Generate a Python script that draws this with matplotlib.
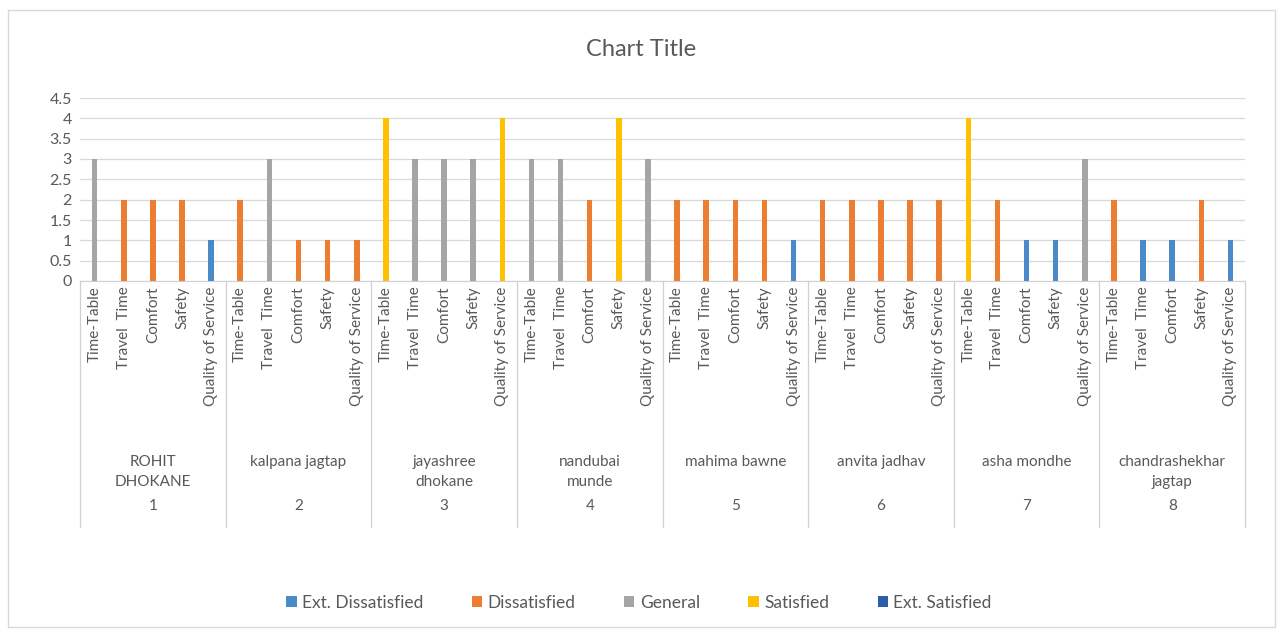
import matplotlib.pyplot as plt
import matplotlib.transforms as mtransforms
from matplotlib.patches import FancyBboxPatch
import numpy as np

plt.rcParams['font.family'] = ['Lato', 'DejaVu Sans']

# categories
groups = ['ROHIT\nDHOKANE', 'kalpana jagtap', 'jayashree\ndhokane', 'nandubai\nmunde',
          'mahima bawne', 'anvita jadhav', 'asha mondhe', 'chandrashekhar\njagtap']
group_nums = ['1', '2', '3', '4', '5', '6', '7', '8']
criteria = ['Time-Table', 'Travel  Time', 'Comfort', 'Safety', 'Quality of Service']

# rating per person and criterion
ratings = [
    [3, 2, 2, 2, 1],
    [2, 3, 1, 1, 1],
    [4, 3, 3, 3, 4],
    [3, 3, 2, 4, 3],
    [2, 2, 2, 2, 1],
    [2, 2, 2, 2, 2],
    [4, 2, 1, 1, 3],
    [2, 1, 1, 2, 1],
]
# which series each bar belongs to
# ED = Ext. Dissatisfied, D = Dissatisfied, G = General, S = Satisfied, ES = Ext. Satisfied
rating_class = [
    ['G', 'D', 'D', 'D', 'ED'],
    ['D', 'G', 'D', 'D', 'D'],
    ['S', 'G', 'G', 'G', 'S'],
    ['G', 'G', 'D', 'S', 'G'],
    ['D', 'D', 'D', 'D', 'ED'],
    ['D', 'D', 'D', 'D', 'D'],
    ['S', 'D', 'ED', 'ED', 'G'],
    ['D', 'ED', 'ED', 'D', 'ED'],
]
series = ['ED', 'D', 'G', 'S', 'ES']
series_names = ['Ext. Dissatisfied', 'Dissatisfied', 'General', 'Satisfied', 'Ext. Satisfied']
colors = ['#4A8AC9', '#ED7D31', '#A5A5A5', '#FFC000', '#2F5CA8']

txt = '#595959'
vals = np.array(ratings).ravel()
cls = np.array(rating_class).ravel()
x = np.arange(len(vals))

fig = plt.figure(figsize=(12.83, 6.37), dpi=100)
ax = fig.add_axes([0.0624, 1 - 281 / 637, 0.908, 183 / 637])

for s, name, c in zip(series, series_names, colors):
    h = np.where(cls == s, vals, 0)
    ax.bar(x, h, width=0.19, color=c, label=name)

ax.set_xlim(-0.5, len(vals) - 0.5)
ax.set_ylim(0, 4.5)
ax.set_yticks(np.arange(0, 4.51, 0.5))
ax.set_yticklabels(['0', '0.5', '1', '1.5', '2', '2.5', '3', '3.5', '4', '4.5'],
                   fontsize=11.5, color=txt)
ax.yaxis.grid(True, color='#D9D9D9', linewidth=0.9)
ax.set_axisbelow(True)
for sp in ['top', 'right', 'left']:
    ax.spines[sp].set_visible(False)
ax.spines['bottom'].set_color('#D0D0D0')
ax.tick_params(axis='y', length=0, pad=6)
ax.set_xticks(x)
ax.set_xticklabels(criteria * len(groups), rotation=90, fontsize=11, color=txt)
ax.tick_params(axis='x', length=0, pad=4)

# multi-level category axis
trans = mtransforms.blended_transform_factory(ax.transData, fig.transFigure)
y_top = 1 - 281 / 637
y_bot = 1 - 527 / 637
n = len(criteria)
for i in range(len(groups) + 1):
    xb = i * n - 0.5
    ax.plot([xb, xb], [y_top, y_bot], transform=trans, color='#D0D0D0',
            linewidth=0.9, clip_on=False)
for i, (g, num) in enumerate(zip(groups, group_nums)):
    xc = i * n + (n - 1) / 2
    va_y = 1 - 472 / 637 if '\n' in g else 1 - 462 / 637
    fig.text(xc, va_y, g, transform=trans, ha='center', va='center',
             fontsize=11, color=txt, linespacing=1.5)
    fig.text(xc, 1 - 506 / 637, num, transform=trans, ha='center', va='center',
             fontsize=11, color=txt)

fig.suptitle('Chart Title', y=1 - 50 / 637, va='center', fontsize=17, color=txt)
fig.legend(loc='center', bbox_to_anchor=(0.498, 1 - 603 / 637), ncol=5, frameon=False,
           fontsize=12.5, handlelength=0.6, handleheight=0.6, handletextpad=0.3,
           columnspacing=2.8, labelcolor=txt)

fig.patches.append(FancyBboxPatch((0.006, 0.015), 0.988, 0.97, boxstyle='square,pad=0',
                                  transform=fig.transFigure, fill=False,
                                  edgecolor='#D9D9D9', linewidth=1))

fig.savefig('out.png', dpi=100)
